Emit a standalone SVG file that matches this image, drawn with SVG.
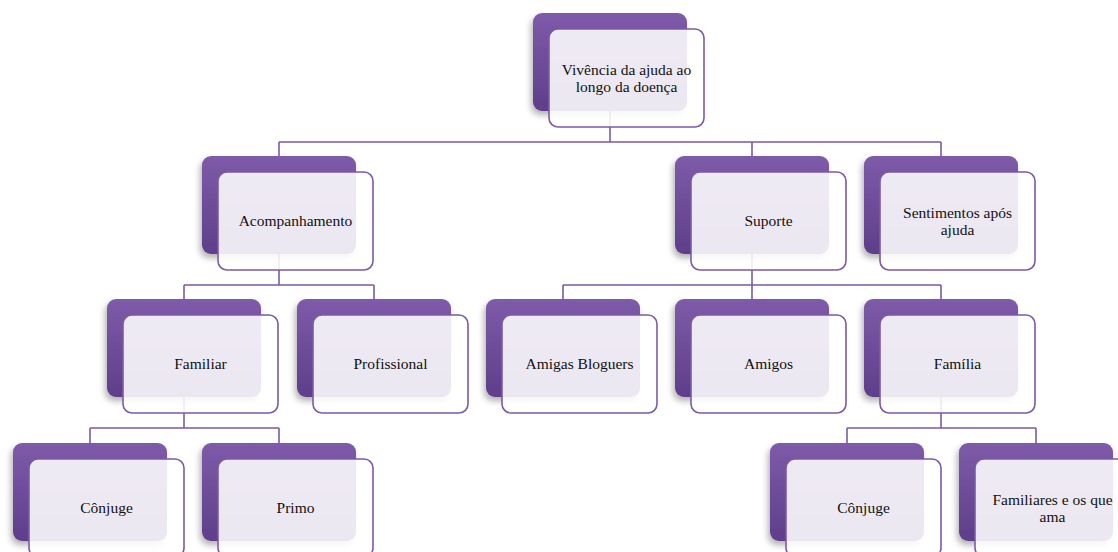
<svg xmlns="http://www.w3.org/2000/svg" width="1118" height="552" viewBox="0 0 1118 552">
<defs>
<linearGradient id="g" x1="0" y1="0" x2="0" y2="1">
<stop offset="0" stop-color="#7E5BA9"/>
<stop offset="1" stop-color="#5E3E8A"/>
</linearGradient>
<filter id="sh" x="-20%" y="-20%" width="140%" height="150%">
<feDropShadow dx="-2" dy="4" stdDeviation="3" flood-color="#000" flood-opacity="0.3"/>
</filter>
</defs>
<style>
.back{fill:url(#g);filter:url(#sh)}
.front{fill:#fff;fill-opacity:0.88;stroke:#7B5AA6;stroke-width:1.6}
.c{fill:none;stroke:#7B5AA6;stroke-width:1.6}
text{font-family:"Liberation Serif","Times New Roman",serif;font-size:15.5px;fill:#111;text-anchor:middle}
</style>
<rect width="1118" height="552" fill="#fff"/>
<g id="connectors">
<path class="c" d="M610,111 V142 M279,142 H941 M279,142 V156 M752,142 V156 M941,142 V156"/>
<path class="c" d="M279,254 V285 M184,285 H374 M184,285 V299 M374,285 V299"/>
<path class="c" d="M752,254 V285 M563,285 H941 M563,285 V299 M752,285 V299 M941,285 V299"/>
<path class="c" d="M184,397 V428 M90,428 H279 M90,428 V443 M279,428 V443"/>
<path class="c" d="M941,397 V428 M847,428 H1036 M847,428 V443 M1036,428 V443"/>
</g>
<g id="n-root" transform="translate(533,13)">
<rect class="back" width="154" height="98" rx="9"/>
<rect class="front" x="16" y="16" width="155" height="98" rx="9"/>
<text x="93.5" y="61.5">Vivência da ajuda ao</text>
<text x="93.5" y="79">longo da doença</text>
</g>
<g id="n-acomp" transform="translate(202,156)">
<rect class="back" width="154" height="98" rx="9"/>
<rect class="front" x="16" y="16" width="155" height="98" rx="9"/>
<text x="93.5" y="70">Acompanhamento</text>
</g>
<g id="n-suporte" transform="translate(675,156)">
<rect class="back" width="154" height="98" rx="9"/>
<rect class="front" x="16" y="16" width="155" height="98" rx="9"/>
<text x="93.5" y="70">Suporte</text>
</g>
<g id="n-sent" transform="translate(864,156)">
<rect class="back" width="154" height="98" rx="9"/>
<rect class="front" x="16" y="16" width="155" height="98" rx="9"/>
<text x="93.5" y="61.5">Sentimentos após</text>
<text x="93.5" y="79">ajuda</text>
</g>
<g id="n-familiar" transform="translate(107,299)">
<rect class="back" width="154" height="98" rx="9"/>
<rect class="front" x="16" y="16" width="155" height="98" rx="9"/>
<text x="93.5" y="70">Familiar</text>
</g>
<g id="n-prof" transform="translate(297,299)">
<rect class="back" width="154" height="98" rx="9"/>
<rect class="front" x="16" y="16" width="155" height="98" rx="9"/>
<text x="93.5" y="70">Profissional</text>
</g>
<g id="n-amigas" transform="translate(486,299)">
<rect class="back" width="154" height="98" rx="9"/>
<rect class="front" x="16" y="16" width="155" height="98" rx="9"/>
<text x="93.5" y="70">Amigas Bloguers</text>
</g>
<g id="n-amigos" transform="translate(675,299)">
<rect class="back" width="154" height="98" rx="9"/>
<rect class="front" x="16" y="16" width="155" height="98" rx="9"/>
<text x="93.5" y="70">Amigos</text>
</g>
<g id="n-familia" transform="translate(864,299)">
<rect class="back" width="154" height="98" rx="9"/>
<rect class="front" x="16" y="16" width="155" height="98" rx="9"/>
<text x="93.5" y="70">Família</text>
</g>
<g id="n-conjuge1" transform="translate(13,443)">
<rect class="back" width="154" height="98" rx="9"/>
<rect class="front" x="16" y="16" width="155" height="98" rx="9"/>
<text x="93.5" y="70">Cônjuge</text>
</g>
<g id="n-primo" transform="translate(202,443)">
<rect class="back" width="154" height="98" rx="9"/>
<rect class="front" x="16" y="16" width="155" height="98" rx="9"/>
<text x="93.5" y="70">Primo</text>
</g>
<g id="n-conjuge2" transform="translate(770,443)">
<rect class="back" width="154" height="98" rx="9"/>
<rect class="front" x="16" y="16" width="155" height="98" rx="9"/>
<text x="93.5" y="70">Cônjuge</text>
</g>
<g id="n-familiares" transform="translate(959,443)">
<rect class="back" width="154" height="98" rx="9"/>
<rect class="front" x="16" y="16" width="155" height="98" rx="9"/>
<text x="93.5" y="61.5">Familiares e os que</text>
<text x="93.5" y="79">ama</text>
</g>
</svg>
